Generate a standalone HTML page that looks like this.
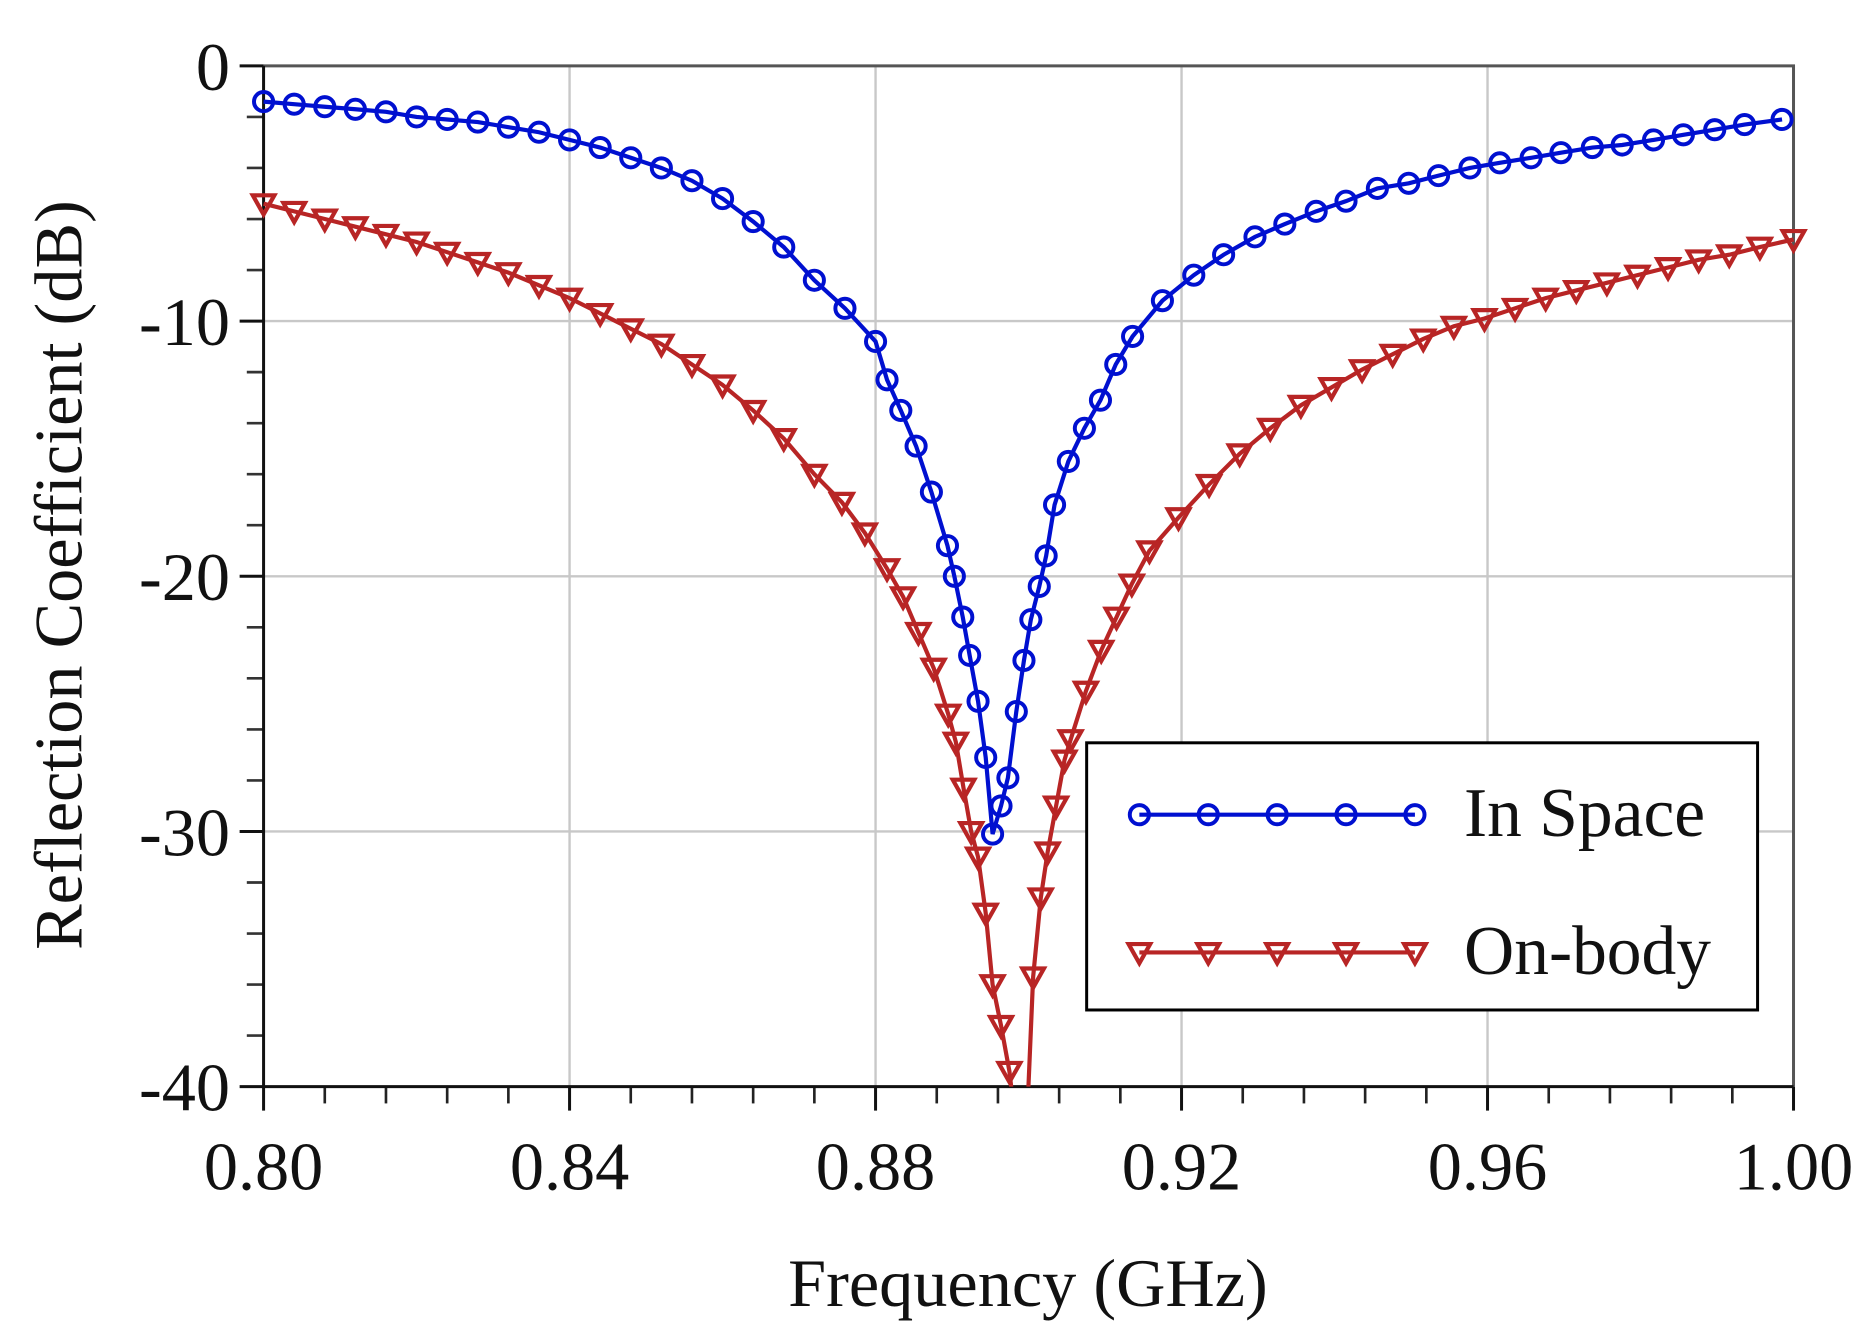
<!DOCTYPE html>
<html><head><meta charset="utf-8"><style>
html,body{margin:0;padding:0;background:#fff;width:1869px;height:1341px;overflow:hidden}
svg{display:block}
text{font-family:"Liberation Serif",serif;fill:#111}
</style></head><body>
<svg id="chart" width="1869" height="1341" viewBox="0 0 1560 1119.3" preserveAspectRatio="none" xmlns="http://www.w3.org/2000/svg">
<g id="grid"></g>
<g id="axes"></g>
<g id="series"></g>
<text transform="translate(68,480) rotate(-90)" text-anchor="middle" font-size="57">Reflection Coefficient (dB)</text>
<text x="858" y="1090" text-anchor="middle" font-size="57">Frequency (GHz)</text>
<g>
<rect x="907" y="620" width="560" height="223" fill="#fff" stroke="#000" stroke-width="2.5"/>
<g id="leg"></g>
<text x="1222" y="698" font-size="58">In Space</text>
<text x="1222" y="813" font-size="58">On-body</text>
</g>
</svg>
<script>
const xTicks=[0.80,0.84,0.88,0.92,0.96,1.00];
const xTickLabels=["0.80","0.84","0.88","0.92","0.96","1.00"];
const yTicks=[0,-10,-20,-30,-40];
const yTickLabels=["0","-10","-20","-30","-40"];
const spaceFreq=[0.8,0.804,0.808,0.812,0.816,0.82,0.824,0.828,0.832,0.836,0.84,0.844,0.848,0.852,0.856,0.86,0.864,0.868,0.872,0.876,0.88,0.8815,0.8833,0.8853,0.8873,0.8894,0.8903,0.8914,0.8923,0.8934,0.8944,0.8953,0.8964,0.8973,0.8984,0.8994,0.9003,0.9014,0.9023,0.9034,0.9052,0.9073,0.9094,0.9114,0.9136,0.9175,0.9216,0.9255,0.9296,0.9335,0.9376,0.9415,0.9456,0.9497,0.9536,0.9577,0.9616,0.9657,0.9696,0.9737,0.9776,0.9817,0.9856,0.9897,0.9936,0.9985];
const spaceDb=[-1.4,-1.5,-1.6,-1.7,-1.8,-2.0,-2.1,-2.2,-2.4,-2.6,-2.9,-3.2,-3.6,-4.0,-4.5,-5.2,-6.1,-7.1,-8.4,-9.5,-10.8,-12.3,-13.5,-14.9,-16.7,-18.8,-20.0,-21.6,-23.1,-24.9,-27.1,-30.1,-29.0,-27.9,-25.3,-23.3,-21.7,-20.4,-19.2,-17.2,-15.5,-14.2,-13.1,-11.7,-10.6,-9.2,-8.2,-7.4,-6.7,-6.2,-5.7,-5.3,-4.8,-4.6,-4.3,-4.0,-3.8,-3.6,-3.4,-3.2,-3.1,-2.9,-2.7,-2.5,-2.3,-2.1];
const bodyFreq=[0.8,0.804,0.808,0.812,0.816,0.82,0.824,0.828,0.832,0.836,0.84,0.844,0.848,0.852,0.856,0.86,0.864,0.868,0.872,0.8756,0.8786,0.8815,0.8836,0.8856,0.8876,0.8895,0.8905,0.8915,0.8925,0.8934,0.8944,0.8953,0.8964,0.8975,0.8985,0.8997,0.9006,0.9016,0.9025,0.9036,0.9047,0.9055,0.9075,0.9095,0.9115,0.9135,0.9158,0.9196,0.9236,0.9276,0.9316,0.9356,0.9396,0.9436,0.9476,0.9516,0.9556,0.9596,0.9636,0.9676,0.9716,0.9756,0.9796,0.9836,0.9876,0.9916,0.9956,1.0];
const bodyDb=[-5.4,-5.7,-6.0,-6.3,-6.6,-6.9,-7.3,-7.7,-8.1,-8.6,-9.1,-9.7,-10.3,-10.9,-11.7,-12.5,-13.5,-14.6,-16.0,-17.1,-18.3,-19.7,-20.8,-22.2,-23.6,-25.4,-26.5,-28.3,-30.0,-31.0,-33.2,-36.0,-37.6,-39.4,-42,-42,-35.7,-32.6,-30.8,-29.0,-27.2,-26.4,-24.5,-22.9,-21.6,-20.3,-19.0,-17.7,-16.4,-15.2,-14.2,-13.3,-12.6,-11.9,-11.3,-10.7,-10.2,-9.9,-9.5,-9.1,-8.8,-8.5,-8.2,-7.9,-7.6,-7.4,-7.1,-6.8];
const X0=220,X1=1497,Y0=55,Y1=907,NS="http://www.w3.org/2000/svg";
function xs(f){return X0+(f-0.8)/0.2*(X1-X0);}
function ys(d){return Y0+(-d)/40*(Y1-Y0);}
function mk(t,a,p){const e=document.createElementNS(NS,t);for(const k in a)e.setAttribute(k,a[k]);p.appendChild(e);return e;}
const grid=document.getElementById('grid'),axes=document.getElementById('axes'),ser=document.getElementById('series'),leg=document.getElementById('leg');
xTicks.forEach((v,i)=>{const x=xs(v);
 if(i>0&&i<xTicks.length-1){const l=mk('line',{x1:x,x2:x,y1:Y0,y2:Y1,stroke:'#c8c8c8','stroke-width':2},grid);
 
 }
 const t=mk('line',{x1:x,x2:x,y1:Y1,y2:Y1+20,stroke:'#111','stroke-width':2.5},axes);
 
 
 const tx=mk('text',{x:x,y:Y1+86,'text-anchor':'middle','font-size':57},axes);tx.textContent=xTickLabels[i];
 
 
 if(i<xTicks.length-1){for(let k=1;k<5;k++){const xm=xs(v+0.008*k);const m=mk('line',{x1:xm,x2:xm,y1:Y1,y2:Y1+14,stroke:'#222','stroke-width':2.2},axes);
 
 }}
});
yTicks.forEach((v,i)=>{const y=ys(v);
 if(i>0&&i<yTicks.length-1){const l=mk('line',{x1:X0,x2:X1,y1:y,y2:y,stroke:'#c8c8c8','stroke-width':2},grid);
 
 }
 const t=mk('line',{x1:X0-20,x2:X0,y1:y,y2:y,stroke:'#111','stroke-width':2.5},axes);
 
 
 const tx=mk('text',{x:X0-28,y:y+20,'text-anchor':'end','font-size':57},axes);tx.textContent=yTickLabels[i];
 
 
 if(i<yTicks.length-1){for(let k=1;k<5;k++){const ym=ys(v-2*k);const m=mk('line',{x1:X0-14,x2:X0,y1:ym,y2:ym,stroke:'#333','stroke-width':2.2},axes);
 
 }}
});
const fr=mk('path',{d:`M${X0},${Y0}H${X1}V${Y1}`,fill:'none',stroke:'#555','stroke-width':2.5},axes);


const ax=mk('path',{d:`M${X0},${Y0}V${Y1}H${X1}`,fill:'none',stroke:'#111','stroke-width':2.5},axes);


mk('clipPath',{id:'clp'},ser).appendChild(document.createElementNS(NS,'rect'));
const cr=document.querySelector('#clp rect');cr.setAttribute('x',X0-15);cr.setAttribute('y',Y0-20);cr.setAttribute('width',X1-X0+30);cr.setAttribute('height',Y1-Y0+20);
function tri(x,y,c,p,nm){const e=mk('path',{d:`M${x-9},${y-7}H${x+9}L${x},${y+9}Z`,fill:'none',stroke:c,'stroke-width':3.5},p);
 
 }
function circ(x,y,c,p,nm){const e=mk('circle',{cx:x,cy:y,r:8,fill:'none',stroke:c,'stroke-width':3.3},p);
 
 }
const gb=mk('g',{'clip-path':'url(#clp)'},ser);


const pb=mk('polyline',{points:bodyFreq.map((f,i)=>xs(f)+','+ys(bodyDb[i])).join(' '),fill:'none',stroke:'#b82525','stroke-width':3.5},gb);


bodyFreq.forEach((f,i)=>{if(bodyDb[i]>-40)tri(xs(f),ys(bodyDb[i]),'#b82525',gb,'on-body-marker');});
const gs=mk('g',{'clip-path':'url(#clp)'},ser);


const ps=mk('polyline',{points:spaceFreq.map((f,i)=>xs(f)+','+ys(spaceDb[i])).join(' '),fill:'none',stroke:'#0010d0','stroke-width':3.5},gs);


spaceFreq.forEach((f,i)=>circ(xs(f),ys(spaceDb[i]),'#0010d0',gs,'in-space-marker'));
const l1=mk('line',{x1:951,x2:1181,y1:680,y2:680,stroke:'#0010d0','stroke-width':3.5},leg);


const l2=mk('line',{x1:951,x2:1181,y1:795,y2:795,stroke:'#b82525','stroke-width':3.5},leg);


for(let k=0;k<5;k++){circ(951+k*57.5,680,'#0010d0',leg,'legend-marker-in-space');tri(951+k*57.5,795,'#b82525',leg,'legend-marker-on-body');}
</script>
</body></html>
